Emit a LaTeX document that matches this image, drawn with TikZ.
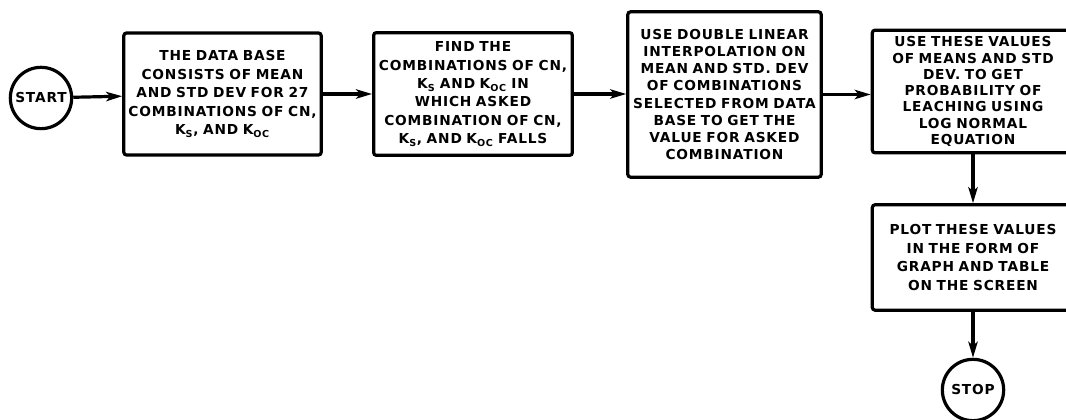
\documentclass[tikz,border=0pt]{standalone}
\usepackage{fontspec}
\usepackage{tikz}
\usetikzlibrary{arrows.meta}
\newfontfamily\chartfont{DejaVu Sans}[LetterSpace=6]
\newcommand{\Ks}{K\textsubscript{S}}
\newcommand{\Koc}{K\textsubscript{OC}}

\begin{document}
\begin{tikzpicture}[x=0.75pt,y=0.75pt,
  font=\chartfont\bfseries\fontsize{10.3}{13.8}\selectfont,
  procbox/.style={draw,line width=2.4pt,rounded corners=2pt,align=center,inner sep=1pt},
  termnode/.style={draw,circle,line width=2.4pt,minimum size=46pt,inner sep=0pt},
  flow/.style={draw,line width=2.4pt,-{Stealth[length=12pt,width=7pt,inset=3pt]}}]
  \useasboundingbox (0,0) rectangle (1066,420);

  \node[termnode] (start) at (41,322) {START};

  \node[procbox,text width=146pt,minimum height=91.5pt] (base) at (222.5,326)
    {THE DATA BASE\\CONSISTS OF MEAN\\AND STD DEV FOR 27\\COMBINATIONS OF CN,\\\Ks, AND \Koc};
  \node[procbox,text width=147pt,minimum height=92pt] (find) at (473,326)
    {FIND THE\\COMBINATIONS OF CN,\\\Ks{} AND \Koc{} IN\\WHICH ASKED\\COMBINATION OF CN,\\\Ks, AND \Koc{} FALLS};
  \node[procbox,text width=143pt,minimum height=124pt,
    font=\chartfont\bfseries\fontsize{10.3}{12.8}\selectfont] (interp) at (724.5,325.5)
    {USE DOUBLE LINEAR\\INTERPOLATION ON\\MEAN AND STD. DEV\\OF COMBINATIONS\\SELECTED FROM DATA\\BASE TO GET THE\\VALUE FOR ASKED\\COMBINATION};
  \node[procbox,text width=149pt,minimum height=92pt,
    font=\chartfont\bfseries\fontsize{10.3}{12.2}\selectfont] (prob) at (973,328.5)
    {USE THESE VALUES\\OF MEANS AND STD\\DEV. TO GET\\PROBABILITY OF\\LEACHING USING\\LOG NORMAL\\EQUATION};
  \node[procbox,text width=149pt,minimum height=79pt] (plot) at (973,162.5)
    {PLOT THESE VALUES\\IN THE FORM OF\\GRAPH AND TABLE\\ON THE SCREEN};

  \node[termnode] (stop) at (973,30) {STOP};

  % main chain, then down to the output
  \draw[flow] (start) -- (base);
  \draw[flow] (base.east) -- (base.east -| find.west);
  \draw[flow] (find.east) -- (find.east -| interp.west);
  \draw[flow] (interp.east) -- (interp.east -| prob.west);
  \draw[flow] (prob) -- (plot);
  \draw[flow] (plot) -- (stop);
\end{tikzpicture}
\end{document}
